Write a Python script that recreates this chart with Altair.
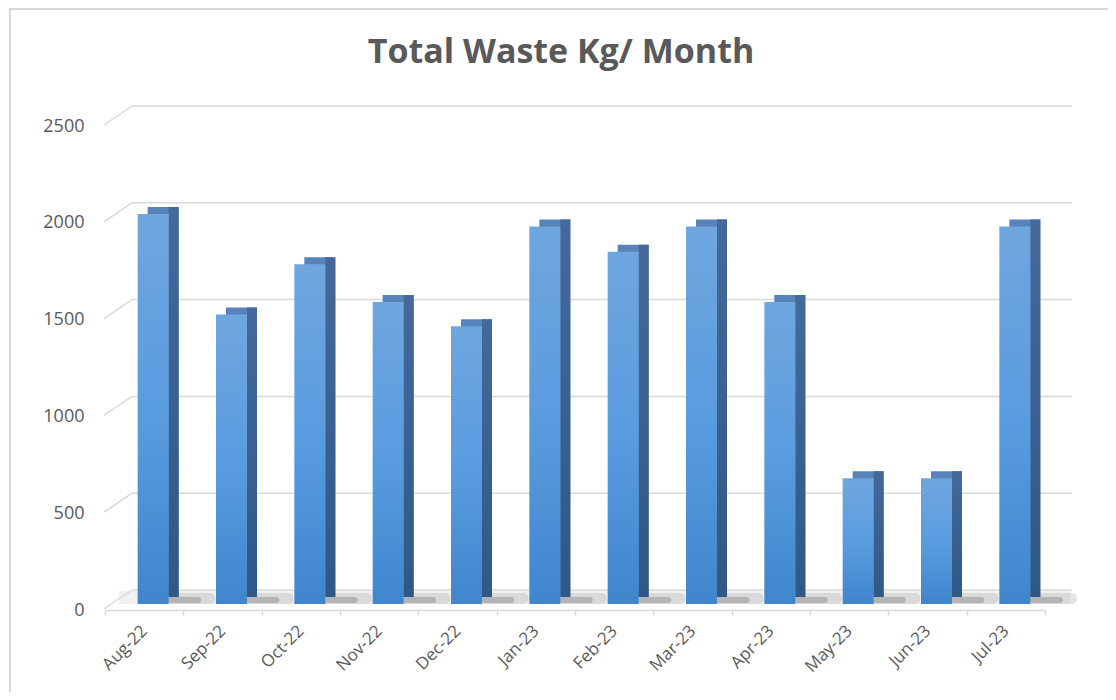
import altair as alt
import pandas as pd

months = ["Aug-22", "Sep-22", "Oct-22", "Nov-22", "Dec-22", "Jan-23",
          "Feb-23", "Mar-23", "Apr-23", "May-23", "Jun-23", "Jul-23"]
waste_kg = [2015, 1495, 1755, 1560, 1435, 1950, 1820, 1950, 1560, 650, 650, 1950]
grid_values = [0, 500, 1000, 1500, 2000, 2500]
title_text = "Total Waste Kg/ Month"

df = pd.DataFrame({"month": months, "kg": waste_kg})
gdf = pd.DataFrame({"v": grid_values})
one = pd.DataFrame({"t": [title_text]})

FONT = "Open Sans"
TXT = "#595959"
GRID = "#d9d9d9"

xscale = alt.Scale(domain=months, paddingInner=0, paddingOuter=0)
yscale = alt.Scale(domain=[0, 2500], nice=False)

x_axis = alt.Axis(offset=20, domainColor=GRID, domainWidth=1.5,
                  tickColor=GRID, tickWidth=1.5, tickSize=5, tickBand="extent",
                  labelAngle=315, labelAlign="right", labelBaseline="middle",
                  labelFont=FONT, labelFontSize=17, labelColor=TXT,
                  labelPadding=13, grid=False)
y_axis = alt.Axis(values=grid_values, format="d", domain=False, ticks=False, grid=False,
                  labelPadding=21, labelOffset=20, labelFont=FONT,
                  labelFontSize=18, labelColor=TXT)


def xe():
    return alt.X("month:N", sort=months, scale=xscale, title=None, axis=x_axis)


def ye(field):
    return alt.Y(field, scale=yscale, title=None, axis=y_axis)


base = alt.Chart(df)

# floor plane
floor = alt.Chart(one).mark_rect(color="#f0f0f0").encode(
    x=alt.value(14), x2=alt.value(965), y=alt.value(485), y2=alt.value(498))

# back-wall gridlines and their diagonal connectors to the front axis
grid_h = alt.Chart(gdf).mark_rule(color=GRID, strokeWidth=1.5).encode(
    x=alt.value(27), x2=alt.value(967), y=ye("v:Q"))
grid_d = alt.Chart(gdf).mark_rule(color=GRID, strokeWidth=1.5, yOffset=19, y2Offset=0).encode(
    x=alt.value(-1), x2=alt.value(27), y=ye("v:Q"), y2="v:Q")

# soft shadows on the floor
shadow1 = base.mark_bar(color="#b0b0b0", opacity=0.35, width=50, xOffset=46,
                        cornerRadius=5).encode(
    x=xe(), y=alt.value(487), y2=alt.value(498))
shadow2 = base.mark_bar(color="#707070", opacity=0.35, width=34, xOffset=40,
                        cornerRadius=3).encode(
    x=xe(), y=alt.value(491), y2=alt.value(497))

# top face (back copy of bar shifted up/right)
top_face = base.mark_bar(color="#5883b8", width=31, xOffset=19, yOffset=7, y2Offset=7).encode(
    x=xe(), y=ye("kg:Q"))

# side face
side_face = base.mark_bar(
    width=10, xOffset=29.5, yOffset=7, y2Offset=7,
    color=alt.Gradient(gradient="linear", x1=0, x2=0, y1=0, y2=1,
                       stops=[alt.GradientStop(color="#44699a", offset=0),
                              alt.GradientStop(color="#2f5887", offset=1)])).encode(
    x=xe(), y=ye("kg:Q"))

# front face
front = base.mark_bar(
    width=31, xOffset=9, yOffset=14, y2Offset=14,
    color=alt.Gradient(gradient="linear", x1=0, x2=0, y1=0, y2=1,
                       stops=[alt.GradientStop(color="#6fa6de", offset=0),
                              alt.GradientStop(color="#5a9ce0", offset=0.5),
                              alt.GradientStop(color="#3f86cd", offset=1)])).encode(
    x=xe(), y=ye("kg:Q"))

title = alt.Chart(one).mark_text(font=FONT, fontSize=34, fontWeight="bold", color=TXT,
                                 align="center", baseline="alphabetic").encode(
    text="t:N", x=alt.value(456), y=alt.value(-43))

border = alt.Chart(one).mark_rect(fillOpacity=0, stroke=GRID, strokeWidth=2).encode(
    x=alt.value(-95), x2=alt.value(1010), y=alt.value(-97), y2=alt.value(620))

chart = alt.layer(border, floor, grid_h, grid_d, shadow1, shadow2, top_face, side_face,
                  front, title).properties(
    width=940, height=484,
    padding={"left": 97, "top": 98, "right": 63, "bottom": 102},
    autosize=alt.AutoSizeParams(type="none"),
    background="white",
).configure_view(strokeWidth=0)

chart.save("out.html", embed_options={"renderer": "svg", "actions": False})
